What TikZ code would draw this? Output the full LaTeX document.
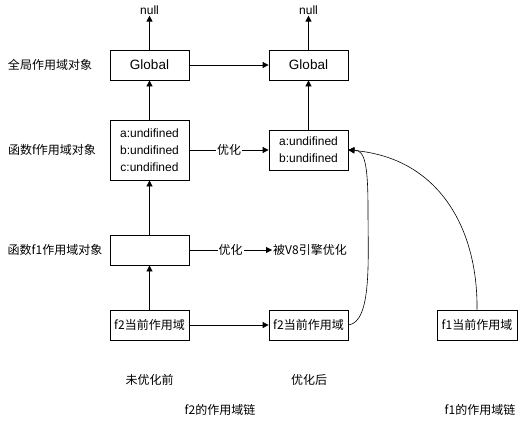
\documentclass[tikz,border=0pt]{standalone}
\usepackage{fontspec}
\setmainfont{Liberation Sans}
\newfontfamily\cjk{Noto Sans CJK SC}
\usetikzlibrary{arrows.meta}
\begin{document}
\begin{tikzpicture}[x=1pt,y=-1pt,
  box/.style={draw,line width=0.8pt,inner sep=0pt,align=center,font=\fontsize{12}{17}\selectfont},
  lbl/.style={inner sep=1pt,font=\fontsize{12}{14}\selectfont\cjk},
  arr/.style={-{Triangle[length=6pt,width=6pt]},line width=0.8pt},
  carr/.style={-{Triangle[length=6pt,width=6pt]},line width=0.6pt}]
\useasboundingbox (0,0) rectangle (526,421);
\node[box,minimum width=79pt,minimum height=30pt,font=\fontsize{13.5}{16}\selectfont] (g1) at (149.5,65) {Global};
\node[box,minimum width=79pt,minimum height=30pt,font=\fontsize{13.5}{16}\selectfont] (g2) at (308.5,65) {Global};
\node[box,minimum width=79pt,minimum height=60pt] (f1) at (149.5,150) {a:undifined\\b:undifined\\c:undifined};
\node[box,minimum width=79pt,minimum height=40pt] (f2) at (308.5,150) {a:undifined\\b:undifined};
\node[box,minimum width=79pt,minimum height=30pt] (ff1) at (149.5,250) {};
\node[box,minimum width=79pt,minimum height=30pt,font=\fontsize{12}{14}\selectfont\cjk] (c1) at (149.5,325) {f2当前作用域};
\node[box,minimum width=79pt,minimum height=30pt,font=\fontsize{12}{14}\selectfont\cjk] (c2) at (308.5,325) {f2当前作用域};
\node[box,minimum width=80pt,minimum height=30pt,font=\fontsize{12}{14}\selectfont\cjk] (c3) at (477,325) {f1当前作用域};
\node[lbl,font=\fontsize{12}{14}\selectfont] (n1) at (149.5,10) {null};
\node[lbl,font=\fontsize{12}{14}\selectfont] (n2) at (308.5,10) {null};
\node[lbl] (l1) at (50,65) {全局作用域对象};
\node[lbl] (l2) at (52,150) {函数f作用域对象};
\node[lbl] (l3) at (55,250) {函数f1作用域对象};
\node[lbl] (v8) at (310,250) {被V8引擎优化};
\node[lbl] (t1) at (149.5,380) {未优化前};
\node[lbl] (t2) at (309,380) {优化后};
\node[lbl] (t3) at (220,410) {f2的作用域链};
\node[lbl] (t4) at (480,410) {f1的作用域链};
\draw[arr] (g1) -- (n1);
\draw[arr] (g2) -- (n2);
\draw[arr] (g1) -- (g2);
\draw[arr] (f1) -- (g1);
\draw[arr] (f2) -- (g2);
\draw[arr] (ff1) -- (f1);
\draw[arr] (c1) -- (ff1);
\draw[arr] (c1) -- (c2);
\draw[arr] (f1) -- node[lbl,fill=white] {优化} (f2);
\draw[arr] (ff1) -- node[lbl,fill=white] {优化} (v8);
\draw[carr] (c2.east) .. controls (372,322) and (368,260) .. (368,210) .. controls (368,165) and (365,150) .. (f2.east);
\draw[carr] (c3.north) .. controls (478,230) and (440,158) .. (f2.east);
\end{tikzpicture}
\end{document}
